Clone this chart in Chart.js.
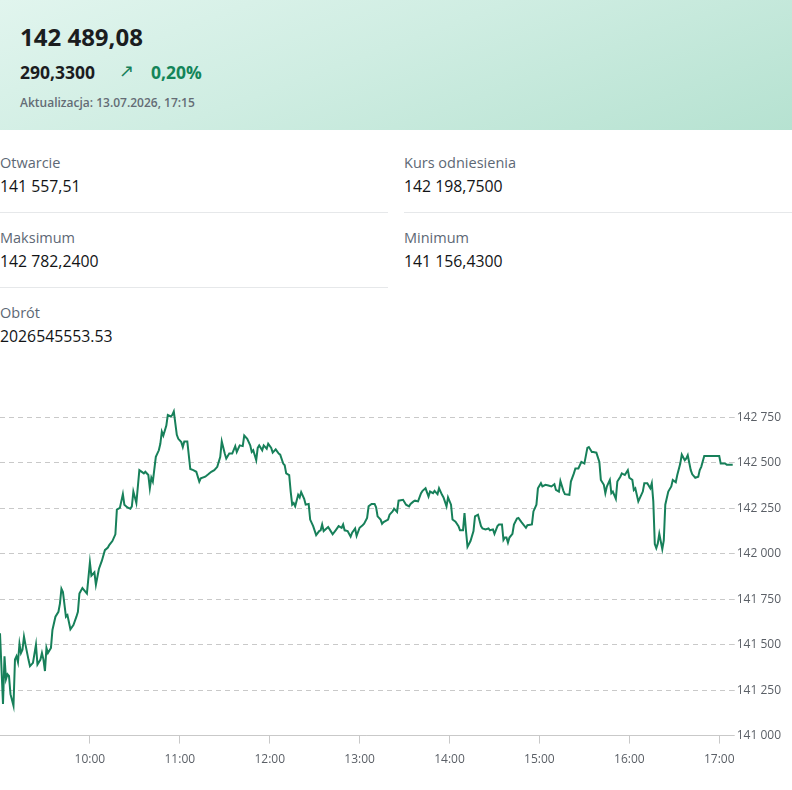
<!DOCTYPE html>
<html lang="pl">
<head>
<meta charset="utf-8">
<title>Notowania</title>
<script src="https://cdn.jsdelivr.net/npm/chart.js@4.4.1/dist/chart.umd.min.js"></script>
<style>
  body { margin: 0; width: 792px; height: 790px; overflow: hidden; position: relative; background: #fff; font-family: 'Open Sans', sans-serif; }
  .naglowek { position: absolute; left: 0; top: 0; width: 792px; height: 130px;
    background: linear-gradient(160deg, #e1f5ee 0%, #cfede2 45%, #b6e2d1 100%); }
  .abs { position: absolute; white-space: nowrap; }
  .kurs { left: 20px; top: 21px; font-size: 24px; line-height: 32px; font-weight: 700; color: #1b1d1f; }
  .zmiana { left: 20px; top: 59px; font-size: 17.5px; line-height: 26px; font-weight: 700; color: #1b1d1f; }
  .strzalka { left: 119px; top: 58px; font-size: 18px; line-height: 26px; color: #17805a; font-family: 'DejaVu Sans', sans-serif; }
  .procent { left: 151px; top: 59px; font-size: 17.5px; line-height: 26px; font-weight: 700; color: #138559; }
  .aktualizacja { left: 20px; top: 94px; font-size: 12px; line-height: 17px; font-weight: 600; color: #646c75; }
  .etykieta { font-size: 14.5px; line-height: 20px; color: #5d6875; }
  .wartosc { font-size: 15.8px; line-height: 22px; color: #121416; }
  .linia { position: absolute; height: 1px; background: #e6e8ea; }
  #wykres { position: absolute; left: 0; top: 390px; }
</style>
</head>
<body>
<div class="naglowek"></div>
<div class="abs kurs">142 489,08</div>
<div class="abs zmiana">290,3300</div>
<div class="abs strzalka">↗</div>
<div class="abs procent">0,20%</div>
<div class="abs aktualizacja">Aktualizacja: 13.07.2026, 17:15</div>

<div class="abs etykieta" style="left:0; top:153px">Otwarcie</div>
<div class="abs wartosc" style="left:0; top:175px">141 557,51</div>
<div class="abs etykieta" style="left:404px; top:153px">Kurs odniesienia</div>
<div class="abs wartosc" style="left:404px; top:175px">142 198,7500</div>
<div class="linia" style="left:0; top:212px; width:388px"></div>
<div class="linia" style="left:404px; top:212px; width:388px"></div>

<div class="abs etykieta" style="left:0; top:228px">Maksimum</div>
<div class="abs wartosc" style="left:0; top:250px">142 782,2400</div>
<div class="abs etykieta" style="left:404px; top:228px">Minimum</div>
<div class="abs wartosc" style="left:404px; top:250px">141 156,4300</div>
<div class="linia" style="left:0; top:287px; width:388px"></div>

<div class="abs etykieta" style="left:0; top:303px">Obrót</div>
<div class="abs wartosc" style="left:0; top:325px">2026545553.53</div>

<canvas id="wykres" width="792" height="400"></canvas>

<script>
const czasy = [
  '09:00','09:02','09:03','09:04','09:05','09:06','09:07','09:09','09:10','09:11','09:12','09:13','09:14','09:15','09:16','09:17','09:19','09:20','09:22','09:24',
  '09:25','09:27','09:28','09:29','09:30','09:31','09:32','09:34','09:35','09:37','09:39','09:40','09:41','09:42','09:44','09:45','09:47','09:49','09:51','09:52',
  '09:53','09:55','09:58','10:00','10:01','10:03','10:04','10:06','10:08','10:10','10:12','10:13','10:15','10:17','10:18','10:20','10:22','10:23','10:25','10:27',
  '10:28','10:29','10:31','10:33','10:36','10:37','10:39','10:40','10:41','10:42','10:44','10:46','10:47','10:48','10:49','10:51','10:52','10:54','10:55','10:56',
  '10:58','10:59','11:01','11:02','11:03','11:05','11:07','11:09','11:11','11:13','11:14','11:17','11:19','11:21','11:23','11:25','11:27','11:28','11:30','11:31',
  '11:33','11:35','11:37','11:38','11:40','11:42','11:43','11:45','11:47','11:48','11:49','11:51','11:52','11:53','11:55','11:56','11:58','11:59','12:01','12:02',
  '12:04','12:06','12:07','12:09','12:10','12:11','12:13','12:14','12:15','12:16','12:17','12:19','12:20','12:21','12:23','12:24','12:26','12:27','12:29','12:31',
  '12:33','12:34','12:35','12:36','12:39','12:40','12:42','12:44','12:46','12:48','12:49','12:50','12:52','12:54','12:55','12:57','12:58','13:00','13:02','13:03',
  '13:05','13:06','13:08','13:10','13:11','13:12','13:14','13:15','13:16','13:19','13:20','13:22','13:23','13:25','13:26','13:29','13:31','13:33','13:34','13:36',
  '13:37','13:39','13:41','13:42','13:44','13:46','13:47','13:49','13:50','13:52','13:53','13:55','13:56','13:58','13:59','14:01','14:02','14:04','14:06','14:07',
  '14:09','14:10','14:11','14:12','14:14','14:16','14:17','14:19','14:21','14:22','14:24','14:26','14:27','14:29','14:30','14:32','14:33','14:35','14:36','14:37',
  '14:38','14:39','14:40','14:42','14:43','14:45','14:46','14:48','14:51','14:52','14:55','14:56','14:58','14:59','15:01','15:02','15:04','15:06','15:08','15:10',
  '15:11','15:13','15:14','15:16','15:17','15:20','15:21','15:23','15:24','15:26','15:28','15:30','15:32','15:33','15:35','15:36','15:38','15:40','15:41','15:43',
  '15:44','15:45','15:47','15:48','15:49','15:51','15:52','15:54','15:55','15:57','15:59','16:00','16:02','16:03','16:04','16:06','16:07','16:09','16:10','16:12',
  '16:14','16:15','16:16','16:17','16:18','16:19','16:20','16:22','16:23','16:24','16:26','16:28','16:29','16:31','16:32','16:34','16:35','16:37','16:38','16:39',
  '16:41','16:42','16:44','16:46','16:47','16:48','16:50','17:00','17:01','17:04','17:05','17:11'
];
const kursy = [
  141563,141174,141436,141310,141337,141328,141228,141164,141418,141436,141404,141505,141454,141472,141545,141500,141418,141382,141400,141500,
  141391,141418,141454,141418,141355,141482,141454,141482,141581,141654,141681,141726,141808,141790,141654,141663,141585,141608,141654,141681,
  141781,141811,141781,141953,141880,141898,141830,141916,141962,142020,142034,142049,142070,142107,142243,142252,142328,142270,142255,142248,
  142261,142342,142279,142460,142442,142451,142433,142360,142418,142397,142533,142569,142605,142672,142650,142705,142763,142755,142763,142782,
  142654,142632,142614,142587,142618,142618,142466,142460,142451,142397,142415,142424,142437,142451,142460,142478,142533,142618,142551,142524,
  142551,142551,142592,142560,142596,142592,142650,142632,142596,142560,142569,142515,142582,142596,142569,142596,142578,142605,142582,142556,
  142574,142551,142545,142496,142487,142442,142433,142342,142270,142279,142261,142324,142310,142339,142302,142270,142274,142188,142152,142103,
  142125,142129,142161,142125,142147,142134,142107,142129,142152,142143,142161,142129,142125,142094,142116,142139,142098,142143,142157,142165,
  142197,142261,142274,142274,142255,142206,142188,142165,142174,142188,142215,142233,142248,142230,142292,142297,142270,142261,142274,142288,
  142292,142288,142333,142346,142360,142315,142342,142333,142346,142328,142360,142324,142310,142261,142310,142270,142188,142176,142152,142129,
  142129,142224,142125,142038,142070,142125,142206,142215,142152,142139,142134,142139,142129,142134,142110,142152,142161,142161,142076,142089,
  142089,142061,142089,142110,142161,142194,142197,142174,142143,142157,142161,142233,142270,142360,142388,142370,142379,142375,142370,142383,
  142351,142342,142400,142346,142328,142324,142397,142442,142469,142469,142505,142496,142582,142587,142560,142560,142556,142505,142406,142379,
  142333,142370,142406,142333,142342,142302,142397,142424,142442,142433,142460,142418,142406,142351,142360,142288,142306,142342,142388,142388,
  142360,142388,142288,142053,142031,142057,142110,142025,142074,142270,142342,142370,142406,142393,142433,142496,142545,142514,142524,142542,
  142460,142437,142418,142424,142460,142478,142538,142538,142496,142496,142489,142489
];
const godzinyOsi = ['10:00', '11:00', '12:00', '13:00', '14:00', '15:00', '16:00', '17:00'];
const poziomyOsi = [141000, 141250, 141500, 141750, 142000, 142250, 142500, 142750];

const KOLOR_LINII = '#17805a';
const KOLOR_SIATKI = '#c9c9c9';

function naMinuty(czas) {
  const [h, m] = czas.split(':').map(Number);
  return h * 60 + m;
}

function formatujLiczbe(v) {
  return String(v).replace(/\B(?=(\d{3})+(?!\d))/g, ' ');
}

function formatujGodzine(min) {
  const h = Math.floor(min / 60);
  const m = min % 60;
  return h + ':' + (m < 10 ? '0' + m : m);
}

// przerywana siatka, ciągła tylko linia na dole osi
function kreski(ctx) {
  return (ctx.tick && ctx.tick.value === poziomyOsi[0]) ? [] : [5, 4];
}

const punkty = czasy.map((c, i) => ({ x: naMinuty(c), y: kursy[i] }));

new Chart(document.getElementById('wykres').getContext('2d'), {
  type: 'line',
  data: {
    datasets: [{
      data: punkty,
      borderColor: KOLOR_LINII,
      borderWidth: 2,
      pointRadius: 0,
      tension: 0,
      fill: false
    }]
  },
  options: {
    responsive: false,
    animation: false,
    layout: { padding: { top: 5, right: 9, bottom: 14, left: 0 } },
    plugins: { legend: { display: false }, tooltip: { enabled: false } },
    scales: {
      x: {
        type: 'linear',
        min: naMinuty(czasy[0]),
        max: naMinuty('17:09'),
        afterBuildTicks: axis => { axis.ticks = godzinyOsi.map(g => ({ value: naMinuty(g) })); },
        grid: { drawOnChartArea: false, drawTicks: true, tickLength: 8, tickColor: KOLOR_SIATKI },
        border: { display: true, color: KOLOR_SIATKI, width: 1 },
        ticks: {
          padding: 9,
          color: '#5a5f66',
          font: { family: 'Open Sans', size: 12 },
          maxRotation: 0,
          callback: v => formatujGodzine(v)
        }
      },
      y: {
        position: 'right',
        min: 141000,
        max: 142850,
        afterBuildTicks: axis => { axis.ticks = poziomyOsi.map(v => ({ value: v })); },
        grid: {
          color: KOLOR_SIATKI,
          tickLength: 2,
          tickColor: KOLOR_SIATKI,
          tickBorderDash: kreski
        },
        border: { display: false, dash: kreski },
        ticks: {
          padding: 2,
          color: '#5a5f66',
          font: { family: 'Open Sans', size: 12 },
          callback: v => formatujLiczbe(v)
        }
      }
    }
  }
});
</script>
</body>
</html>
